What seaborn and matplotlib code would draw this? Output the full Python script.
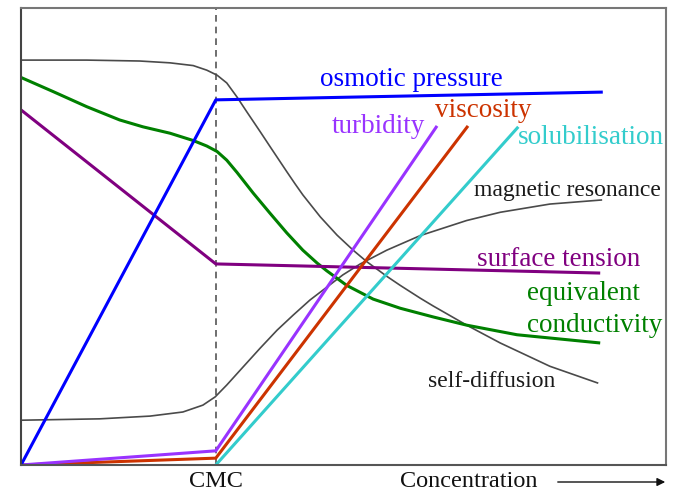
import matplotlib
matplotlib.use("Agg")
import matplotlib.pyplot as plt
import seaborn as sns

# ---------------- data (arbitrary units, 0-100 on both axes) ----------------
cmc = 30.2

osmotic_x = [0, 30.2, 90.2]
osmotic_y = [0, 79.9, 81.6]

turbidity_x = [0, 30.2, 64.5]
turbidity_y = [0, 3.1, 74.2]

viscosity_x = [0, 30.2, 69.3]
viscosity_y = [0, 1.5, 74.2]

solub_x = [30.2, 77.1]
solub_y = [0, 74.0]

surface_x = [0, 30.2, 89.8]
surface_y = [77.7, 44.0, 42.0]

conduct_x = [0, 5.0, 10.2, 15.3, 18.9, 23.1, 26.7, 28.8, 30.4, 31.9, 33.5,
             36.0, 38.6, 41.2, 43.7, 45.9, 47.4, 50.5, 54.6, 58.8, 63.9,
             69.1, 76.9, 89.8]
conduct_y = [84.8, 81.7, 78.4, 75.5, 74.0, 72.6, 71.0, 69.8, 68.6, 66.7, 64.0,
             59.5, 55.1, 50.8, 47.0, 44.2, 42.5, 39.3, 36.3, 34.3, 32.4,
             30.6, 28.5, 26.7]

selfdiff_x = [0, 10.2, 18.4, 23.1, 26.7, 28.8, 30.4, 31.9, 33.5, 35.0, 37.1,
              38.6, 41.2, 42.5, 43.7, 46.4, 49.0, 51.5, 53.6, 56.7, 58.8,
              61.9, 63.9, 69.1, 74.3, 82.0, 89.5]
selfdiff_y = [88.6, 88.6, 88.4, 88.0, 87.4, 86.4, 85.3, 83.6, 80.5, 77.3, 72.9,
              69.7, 64.2, 61.5, 59.1, 54.3, 50.3, 47.0, 44.5, 41.3, 39.3,
              36.5, 34.8, 30.6, 26.7, 21.6, 17.9]

magnet_x = [0, 12.2, 20.0, 25.1, 28.2, 30.1, 31.9, 34.4, 37.1, 39.7, 42.2,
            44.8, 47.4, 49.9, 52.6, 56.7, 61.9, 69.1, 74.3, 82.0, 90.1]
magnet_y = [9.8, 10.1, 10.7, 11.6, 13.1, 14.9, 17.5, 21.4, 25.6, 29.5, 32.8,
            36.1, 38.9, 41.6, 44.0, 47.0, 50.2, 53.5, 55.3, 57.1, 58.0]

# ---------------- style ----------------
sns.set_style("white")
plt.rcParams["font.family"] = ["Liberation Serif", "DejaVu Serif"]

W, H = 681, 492
fig = plt.figure(figsize=(W / 100, H / 100), dpi=100)
ax = fig.add_axes([21 / W, (H - 465) / H, (666 - 21) / W, (465 - 8) / H])

grey = "#4a4a4a"
kw = dict(ax=ax, sort=False, solid_joinstyle="round", solid_capstyle="butt")
sns.lineplot(x=selfdiff_x, y=selfdiff_y, color=grey, lw=1.2, **kw)
sns.lineplot(x=magnet_x, y=magnet_y, color=grey, lw=1.2, **kw)
sns.lineplot(x=conduct_x, y=conduct_y, color="#008000", lw=2.2, **kw)
sns.lineplot(x=surface_x, y=surface_y, color="#800080", lw=2.2, **kw)
sns.lineplot(x=solub_x, y=solub_y, color="#33CCCC", lw=2.2, **kw)
sns.lineplot(x=viscosity_x, y=viscosity_y, color="#CC3300", lw=2.2, **kw)
sns.lineplot(x=turbidity_x, y=turbidity_y, color="#9933FF", lw=2.2, **kw)
sns.lineplot(x=osmotic_x, y=osmotic_y, color="#0000FF", lw=2.2, **kw)

ax.axvline(cmc, color="#555555", lw=1.2, ls=(0, (4, 3)), zorder=0)

ax.set_xlim(0, 100)
ax.set_ylim(0, 100)
ax.set_xticks([])
ax.set_yticks([])
for s in ax.spines.values():
    s.set_color("#777777")
    s.set_linewidth(1.5)
ax.spines["left"].set_color("#444444")
ax.spines["bottom"].set_color("#555555")


def px(xp, yp):
    return (xp - 21) / 6.45, (465 - yp) / 4.57


labels = [
    ("osmotic pressure", 320, 86, "#0000FF", 19.5),
    ("viscosity", 435, 117, "#CC3300", 19.5),
    ("turbidity", 332, 133, "#9933FF", 19.5),
    ("solubilisation", 518, 144, "#33CCCC", 19.5),
    ("magnetic resonance", 474, 196, "#1a1a1a", 17.0),
    ("surface tension", 477, 266, "#800080", 19.5),
    ("equivalent", 527, 300, "#008000", 19.5),
    ("conductivity", 527, 332, "#008000", 19.5),
    ("self-diffusion", 428, 387, "#1a1a1a", 17.0),
]
for t, xp, yp, c, fs in labels:
    x, y = px(xp, yp)
    ax.text(x, y, t, color=c, fontsize=fs, ha="left", va="baseline", clip_on=False)

fig.text(216 / W, 1 - 487 / H, "CMC", fontsize=17.5, ha="center", va="baseline", color="#111111")
fig.text(400 / W, 1 - 487 / H, "Concentration", fontsize=17.5, ha="left", va="baseline", color="#111111")
fig.add_artist(matplotlib.patches.FancyArrowPatch(
    (555 / W, 1 - 482 / H), (668 / W, 1 - 482 / H), transform=fig.transFigure,
    arrowstyle="-|>", mutation_scale=12, color="#111111", lw=1.0))

fig.savefig("out.png", dpi=100)
